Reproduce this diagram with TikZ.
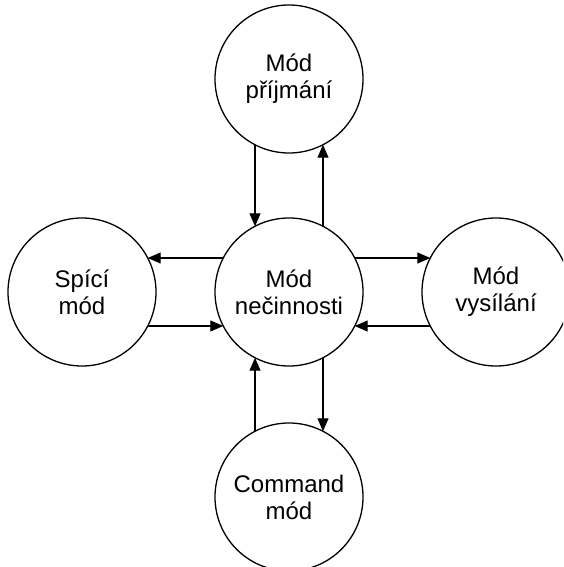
\documentclass[tikz,border=0pt]{standalone}
\usepackage{fontspec}
\setmainfont{Liberation Sans}
\usetikzlibrary{arrows.meta,calc}
\begin{document}
\begin{tikzpicture}[x=1pt,y=-1pt,
  state/.style={circle,draw,line width=1.3pt,minimum size=148pt,inner sep=0pt,outer sep=0pt,
    align=center,font=\fontsize{24}{27}\selectfont},
  flow/.style={line width=1.3pt,-{Triangle[length=13pt,width=11pt]}}]
\useasboundingbox (0,0) rectangle (563,567);
\begin{scope}
\clip (0,0) rectangle (563,567);
\node[state] (idle) at (289,292) {Mód\\nečinnosti};
\node[state] (rx)   at (289,79)  {Mód\\příjmání};
\node[state] (sleep) at (82,292) {Spící\\mód};
\node[state] (tx)   at (496,292) {Mód\\vysílání};
\node[state] (cmd)  at (289,497) {Command\\mód};
\end{scope}
% exact border point of a state circle (radius 74pt) at a given angle
\newcommand{\rim}[2]{($(#1.center)+(#2:74pt)$)}
% vertical pairs
\draw[flow] \rim{rx}{242.65} -- \rim{idle}{117.35};
\draw[flow] \rim{idle}{62.65} -- \rim{rx}{297.35};
\draw[flow] \rim{cmd}{117.35} -- \rim{idle}{242.65};
\draw[flow] \rim{idle}{297.35} -- \rim{cmd}{62.65};
% horizontal pairs
\draw[flow] \rim{idle}{152.65} -- \rim{sleep}{27.35};
\draw[flow] \rim{sleep}{-27.35} -- \rim{idle}{207.35};
\draw[flow] \rim{idle}{27.35} -- \rim{tx}{152.65};
\draw[flow] \rim{tx}{207.35} -- \rim{idle}{-27.35};
\end{tikzpicture}
\end{document}
